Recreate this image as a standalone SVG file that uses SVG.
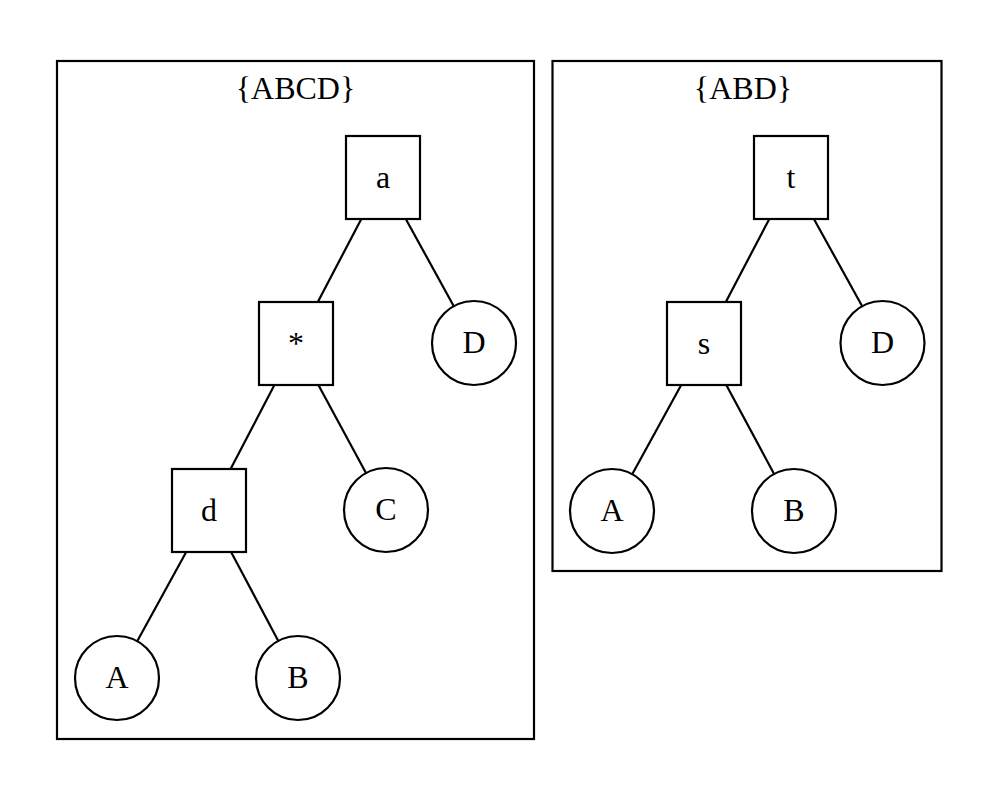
<svg xmlns="http://www.w3.org/2000/svg" width="996" height="796" viewBox="0 0 996 796">
<style>
.cl{fill:none;stroke:#000;stroke-width:2.2}
.nd{fill:#fff;stroke:#000;stroke-width:2.2}
.e{stroke:#000;stroke-width:2.2;fill:none}
text{font-family:"Liberation Serif","Times New Roman",serif;font-size:32px;text-anchor:middle;fill:#000}
</style>
<rect width="996" height="796" fill="#fff"/>
<g id="cluster_ABCD">
<rect class="cl" x="57" y="61" width="477" height="678"/>
<text x="295.5" y="98.5">{ABCD}</text>
</g>
<g id="cluster_ABD">
<rect class="cl" x="552.5" y="61" width="389" height="510"/>
<text x="743" y="98.5">{ABD}</text>
</g>
<g id="connectors">
<line class="e" x1="361.3" y1="219" x2="317.8" y2="302"/>
<line class="e" x1="405.8" y1="219" x2="453.8" y2="306.2"/>
<line class="e" x1="274.4" y1="385" x2="230.6" y2="469"/>
<line class="e" x1="318.4" y1="385" x2="366" y2="473.1"/>
<line class="e" x1="186.2" y1="552" x2="137.2" y2="641.2"/>
<line class="e" x1="231.1" y1="552" x2="278.3" y2="640.9"/>
<line class="e" x1="769.3" y1="219" x2="725.8" y2="302"/>
<line class="e" x1="813.9" y1="219" x2="862.2" y2="306.2"/>
<line class="e" x1="681.2" y1="385" x2="632.2" y2="474.2"/>
<line class="e" x1="726.3" y1="385" x2="774.1" y2="474"/>
</g>
<g id="n_a"><rect class="nd" x="346" y="136" width="74" height="83"/><text x="383" y="187.5">a</text></g>
<g id="n_star"><rect class="nd" x="259" y="302" width="74" height="83"/><text x="296" y="353.5">*</text></g>
<g id="n_d"><rect class="nd" x="172" y="469" width="74" height="83"/><text x="209" y="520.5">d</text></g>
<g id="n_D1"><circle class="nd" cx="474" cy="343" r="42"/><text x="474" y="353">D</text></g>
<g id="n_C1"><circle class="nd" cx="386" cy="510" r="42"/><text x="386" y="520">C</text></g>
<g id="n_A1"><circle class="nd" cx="117" cy="678" r="42"/><text x="117" y="688">A</text></g>
<g id="n_B1"><circle class="nd" cx="298" cy="678" r="42"/><text x="298" y="688">B</text></g>
<g id="n_t"><rect class="nd" x="754" y="136" width="74" height="83"/><text x="791" y="187.5">t</text></g>
<g id="n_s"><rect class="nd" x="667" y="302" width="74" height="83"/><text x="704" y="353.5">s</text></g>
<g id="n_D2"><circle class="nd" cx="882.5" cy="343" r="42"/><text x="882.5" y="353">D</text></g>
<g id="n_A2"><circle class="nd" cx="612" cy="511" r="42"/><text x="612" y="521">A</text></g>
<g id="n_B2"><circle class="nd" cx="794" cy="511" r="42"/><text x="794" y="521">B</text></g>
</svg>
